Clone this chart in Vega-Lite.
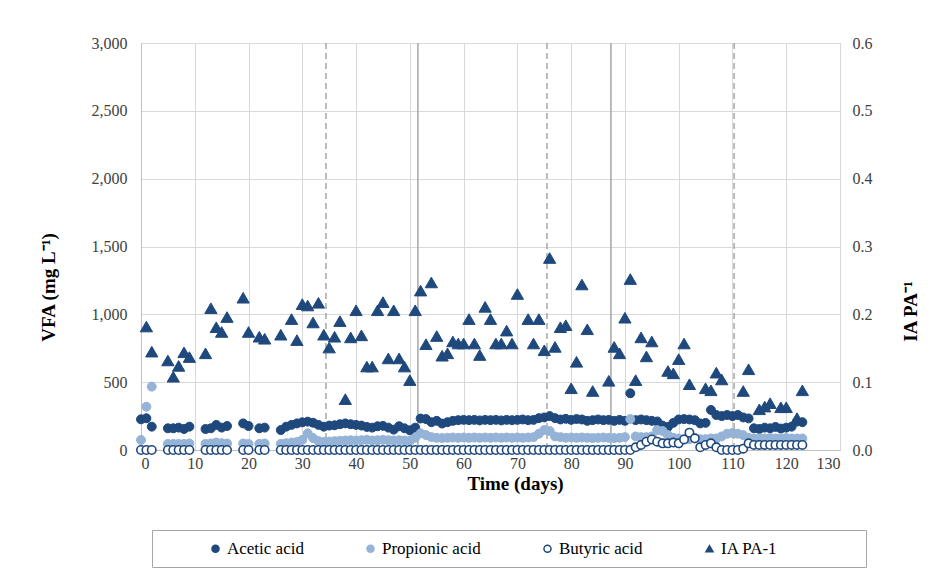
{
  "$schema": "https://vega.github.io/schema/vega-lite/v6.json",
  "width": 699,
  "height": 407,
  "autosize": {"type": "none"},
  "padding": {"left": 141, "top": 43, "right": 103, "bottom": 131},
  "background": "#FFFFFF",
  "datasets": {
    "phases": [
      {"day": 34.4, "kind": "dashed"},
      {"day": 51.5, "kind": "solid"},
      {"day": 75.5, "kind": "dashed"},
      {"day": 87.4, "kind": "solid"},
      {"day": 110.3, "kind": "dashed"}
    ],
    "vfa": [
      {"day":0,"Acetic acid":226,"Propionic acid":74,"Butyric acid":0,"IA PA-1":null},
      {"day":1,"Acetic acid":234,"Propionic acid":319,"Butyric acid":0,"IA PA-1":0.182},
      {"day":2,"Acetic acid":172,"Propionic acid":467,"Butyric acid":0,"IA PA-1":0.145},
      {"day":5,"Acetic acid":160,"Propionic acid":45,"Butyric acid":0,"IA PA-1":0.132},
      {"day":6,"Acetic acid":160,"Propionic acid":45,"Butyric acid":0,"IA PA-1":0.108},
      {"day":7,"Acetic acid":165,"Propionic acid":45,"Butyric acid":0,"IA PA-1":0.124},
      {"day":8,"Acetic acid":155,"Propionic acid":45,"Butyric acid":0,"IA PA-1":0.144},
      {"day":9,"Acetic acid":172,"Propionic acid":48,"Butyric acid":0,"IA PA-1":0.137},
      {"day":12,"Acetic acid":155,"Propionic acid":45,"Butyric acid":0,"IA PA-1":0.1425},
      {"day":13,"Acetic acid":160,"Propionic acid":48,"Butyric acid":0,"IA PA-1":0.209},
      {"day":14,"Acetic acid":185,"Propionic acid":55,"Butyric acid":0,"IA PA-1":0.181},
      {"day":15,"Acetic acid":165,"Propionic acid":50,"Butyric acid":0,"IA PA-1":0.174},
      {"day":16,"Acetic acid":177,"Propionic acid":48,"Butyric acid":0,"IA PA-1":0.196},
      {"day":19,"Acetic acid":196,"Propionic acid":48,"Butyric acid":0,"IA PA-1":0.2245},
      {"day":20,"Acetic acid":177,"Propionic acid":45,"Butyric acid":0,"IA PA-1":0.174},
      {"day":22,"Acetic acid":160,"Propionic acid":45,"Butyric acid":0,"IA PA-1":0.167},
      {"day":23,"Acetic acid":165,"Propionic acid":48,"Butyric acid":0,"IA PA-1":0.164},
      {"day":26,"Acetic acid":147,"Propionic acid":45,"Butyric acid":0,"IA PA-1":0.170},
      {"day":27,"Acetic acid":172,"Propionic acid":50,"Butyric acid":0,"IA PA-1":null},
      {"day":28,"Acetic acid":185,"Propionic acid":55,"Butyric acid":0,"IA PA-1":0.193},
      {"day":29,"Acetic acid":196,"Propionic acid":60,"Butyric acid":0,"IA PA-1":0.162},
      {"day":30,"Acetic acid":204,"Propionic acid":75,"Butyric acid":0,"IA PA-1":0.215},
      {"day":31,"Acetic acid":209,"Propionic acid":123,"Butyric acid":0,"IA PA-1":0.213},
      {"day":32,"Acetic acid":201,"Propionic acid":88,"Butyric acid":0,"IA PA-1":0.188},
      {"day":33,"Acetic acid":185,"Propionic acid":66,"Butyric acid":0,"IA PA-1":0.217},
      {"day":34,"Acetic acid":172,"Propionic acid":60,"Butyric acid":0,"IA PA-1":0.170},
      {"day":35,"Acetic acid":180,"Propionic acid":62,"Butyric acid":0,"IA PA-1":0.151},
      {"day":36,"Acetic acid":182,"Propionic acid":65,"Butyric acid":0,"IA PA-1":0.167},
      {"day":37,"Acetic acid":190,"Propionic acid":68,"Butyric acid":0,"IA PA-1":0.190},
      {"day":38,"Acetic acid":196,"Propionic acid":70,"Butyric acid":0,"IA PA-1":0.075},
      {"day":39,"Acetic acid":190,"Propionic acid":72,"Butyric acid":0,"IA PA-1":0.166},
      {"day":40,"Acetic acid":185,"Propionic acid":70,"Butyric acid":0,"IA PA-1":0.206},
      {"day":41,"Acetic acid":180,"Propionic acid":72,"Butyric acid":0,"IA PA-1":0.169},
      {"day":42,"Acetic acid":170,"Propionic acid":75,"Butyric acid":0,"IA PA-1":0.123},
      {"day":43,"Acetic acid":165,"Propionic acid":70,"Butyric acid":0,"IA PA-1":0.123},
      {"day":44,"Acetic acid":175,"Propionic acid":72,"Butyric acid":0,"IA PA-1":0.206},
      {"day":45,"Acetic acid":178,"Propionic acid":75,"Butyric acid":0,"IA PA-1":0.218},
      {"day":46,"Acetic acid":165,"Propionic acid":72,"Butyric acid":0,"IA PA-1":0.135},
      {"day":47,"Acetic acid":150,"Propionic acid":70,"Butyric acid":0,"IA PA-1":0.206},
      {"day":48,"Acetic acid":175,"Propionic acid":72,"Butyric acid":0,"IA PA-1":0.135},
      {"day":49,"Acetic acid":160,"Propionic acid":70,"Butyric acid":0,"IA PA-1":0.123},
      {"day":50,"Acetic acid":145,"Propionic acid":68,"Butyric acid":0,"IA PA-1":0.103},
      {"day":51,"Acetic acid":165,"Propionic acid":90,"Butyric acid":0,"IA PA-1":0.206},
      {"day":52,"Acetic acid":232,"Propionic acid":123,"Butyric acid":0,"IA PA-1":0.235},
      {"day":53,"Acetic acid":228,"Propionic acid":110,"Butyric acid":0,"IA PA-1":0.156},
      {"day":54,"Acetic acid":205,"Propionic acid":95,"Butyric acid":0,"IA PA-1":0.247},
      {"day":55,"Acetic acid":215,"Propionic acid":90,"Butyric acid":0,"IA PA-1":0.168},
      {"day":56,"Acetic acid":195,"Propionic acid":88,"Butyric acid":0,"IA PA-1":0.139},
      {"day":57,"Acetic acid":205,"Propionic acid":90,"Butyric acid":0,"IA PA-1":0.1425},
      {"day":58,"Acetic acid":215,"Propionic acid":92,"Butyric acid":0,"IA PA-1":0.160},
      {"day":59,"Acetic acid":220,"Propionic acid":90,"Butyric acid":0,"IA PA-1":0.157},
      {"day":60,"Acetic acid":222,"Propionic acid":92,"Butyric acid":0,"IA PA-1":0.157},
      {"day":61,"Acetic acid":220,"Propionic acid":90,"Butyric acid":0,"IA PA-1":0.193},
      {"day":62,"Acetic acid":222,"Propionic acid":92,"Butyric acid":0,"IA PA-1":0.157},
      {"day":63,"Acetic acid":218,"Propionic acid":90,"Butyric acid":0,"IA PA-1":0.140},
      {"day":64,"Acetic acid":222,"Propionic acid":92,"Butyric acid":0,"IA PA-1":0.211},
      {"day":65,"Acetic acid":220,"Propionic acid":90,"Butyric acid":0,"IA PA-1":0.193},
      {"day":66,"Acetic acid":222,"Propionic acid":92,"Butyric acid":0,"IA PA-1":0.157},
      {"day":67,"Acetic acid":218,"Propionic acid":90,"Butyric acid":0,"IA PA-1":0.157},
      {"day":68,"Acetic acid":222,"Propionic acid":92,"Butyric acid":0,"IA PA-1":0.176},
      {"day":69,"Acetic acid":220,"Propionic acid":90,"Butyric acid":0,"IA PA-1":0.157},
      {"day":70,"Acetic acid":222,"Propionic acid":92,"Butyric acid":0,"IA PA-1":0.230},
      {"day":71,"Acetic acid":225,"Propionic acid":90,"Butyric acid":0,"IA PA-1":null},
      {"day":72,"Acetic acid":220,"Propionic acid":92,"Butyric acid":0,"IA PA-1":0.193},
      {"day":73,"Acetic acid":222,"Propionic acid":95,"Butyric acid":0,"IA PA-1":0.157},
      {"day":74,"Acetic acid":235,"Propionic acid":120,"Butyric acid":0,"IA PA-1":0.193},
      {"day":75,"Acetic acid":240,"Propionic acid":147,"Butyric acid":0,"IA PA-1":0.147},
      {"day":76,"Acetic acid":250,"Propionic acid":140,"Butyric acid":0,"IA PA-1":0.283},
      {"day":77,"Acetic acid":235,"Propionic acid":100,"Butyric acid":0,"IA PA-1":0.152},
      {"day":78,"Acetic acid":225,"Propionic acid":95,"Butyric acid":0,"IA PA-1":0.181},
      {"day":79,"Acetic acid":230,"Propionic acid":90,"Butyric acid":0,"IA PA-1":0.184},
      {"day":80,"Acetic acid":222,"Propionic acid":92,"Butyric acid":0,"IA PA-1":0.091},
      {"day":81,"Acetic acid":228,"Propionic acid":90,"Butyric acid":0,"IA PA-1":0.130},
      {"day":82,"Acetic acid":225,"Propionic acid":92,"Butyric acid":0,"IA PA-1":0.244},
      {"day":83,"Acetic acid":215,"Propionic acid":90,"Butyric acid":0,"IA PA-1":0.178},
      {"day":84,"Acetic acid":220,"Propionic acid":88,"Butyric acid":0,"IA PA-1":0.087},
      {"day":85,"Acetic acid":225,"Propionic acid":90,"Butyric acid":0,"IA PA-1":null},
      {"day":86,"Acetic acid":220,"Propionic acid":92,"Butyric acid":0,"IA PA-1":null},
      {"day":87,"Acetic acid":222,"Propionic acid":90,"Butyric acid":0,"IA PA-1":0.102},
      {"day":88,"Acetic acid":215,"Propionic acid":88,"Butyric acid":0,"IA PA-1":0.152},
      {"day":89,"Acetic acid":222,"Propionic acid":90,"Butyric acid":0,"IA PA-1":0.1425},
      {"day":90,"Acetic acid":215,"Propionic acid":95,"Butyric acid":0,"IA PA-1":0.195},
      {"day":91,"Acetic acid":418,"Propionic acid":228,"Butyric acid":0,"IA PA-1":0.252},
      {"day":92,"Acetic acid":220,"Propionic acid":100,"Butyric acid":20,"IA PA-1":0.103},
      {"day":93,"Acetic acid":225,"Propionic acid":95,"Butyric acid":37,"IA PA-1":0.166},
      {"day":94,"Acetic acid":220,"Propionic acid":95,"Butyric acid":61,"IA PA-1":0.138},
      {"day":95,"Acetic acid":215,"Propionic acid":100,"Butyric acid":78,"IA PA-1":0.160},
      {"day":96,"Acetic acid":210,"Propionic acid":147,"Butyric acid":61,"IA PA-1":null},
      {"day":97,"Acetic acid":180,"Propionic acid":140,"Butyric acid":49,"IA PA-1":null},
      {"day":98,"Acetic acid":170,"Propionic acid":110,"Butyric acid":49,"IA PA-1":0.1165},
      {"day":99,"Acetic acid":200,"Propionic acid":90,"Butyric acid":55,"IA PA-1":0.113},
      {"day":100,"Acetic acid":225,"Propionic acid":85,"Butyric acid":49,"IA PA-1":0.134},
      {"day":101,"Acetic acid":228,"Propionic acid":80,"Butyric acid":78,"IA PA-1":0.157},
      {"day":102,"Acetic acid":225,"Propionic acid":80,"Butyric acid":128,"IA PA-1":0.097},
      {"day":103,"Acetic acid":220,"Propionic acid":85,"Butyric acid":86,"IA PA-1":null},
      {"day":104,"Acetic acid":196,"Propionic acid":80,"Butyric acid":20,"IA PA-1":null},
      {"day":105,"Acetic acid":200,"Propionic acid":80,"Butyric acid":37,"IA PA-1":0.091},
      {"day":106,"Acetic acid":295,"Propionic acid":85,"Butyric acid":49,"IA PA-1":0.088},
      {"day":107,"Acetic acid":258,"Propionic acid":85,"Butyric acid":20,"IA PA-1":0.114},
      {"day":108,"Acetic acid":250,"Propionic acid":100,"Butyric acid":0,"IA PA-1":0.104},
      {"day":109,"Acetic acid":258,"Propionic acid":120,"Butyric acid":0,"IA PA-1":null},
      {"day":110,"Acetic acid":250,"Propionic acid":125,"Butyric acid":0,"IA PA-1":null},
      {"day":111,"Acetic acid":258,"Propionic acid":120,"Butyric acid":0,"IA PA-1":null},
      {"day":112,"Acetic acid":240,"Propionic acid":110,"Butyric acid":10,"IA PA-1":0.087},
      {"day":113,"Acetic acid":233,"Propionic acid":90,"Butyric acid":49,"IA PA-1":0.119},
      {"day":114,"Acetic acid":160,"Propionic acid":85,"Butyric acid":37,"IA PA-1":null},
      {"day":115,"Acetic acid":155,"Propionic acid":85,"Butyric acid":37,"IA PA-1":0.060},
      {"day":116,"Acetic acid":165,"Propionic acid":85,"Butyric acid":37,"IA PA-1":0.064},
      {"day":117,"Acetic acid":160,"Propionic acid":88,"Butyric acid":37,"IA PA-1":0.069},
      {"day":118,"Acetic acid":170,"Propionic acid":85,"Butyric acid":37,"IA PA-1":null},
      {"day":119,"Acetic acid":158,"Propionic acid":85,"Butyric acid":37,"IA PA-1":0.063},
      {"day":120,"Acetic acid":165,"Propionic acid":88,"Butyric acid":37,"IA PA-1":0.063},
      {"day":121,"Acetic acid":172,"Propionic acid":85,"Butyric acid":37,"IA PA-1":null},
      {"day":122,"Acetic acid":209,"Propionic acid":85,"Butyric acid":37,"IA PA-1":0.047},
      {"day":123,"Acetic acid":205,"Propionic acid":85,"Butyric acid":37,"IA PA-1":0.088}
    ]
  },
  "layer": [
    {
      "layer": [
        {
          "data": {"name": "phases"},
          "mark": {"type": "rule", "color": "#A6A6A6", "strokeWidth": 1.5},
          "encoding": {
            "x": {"field": "day", "type": "quantitative", "scale": {"domain": [0, 130], "nice": false}},
            "strokeDash": {"field": "kind", "type": "nominal", "scale": {"domain": ["dashed", "solid"], "range": [[6, 4], [1, 0]]}, "legend": null}
          }
        },
        {
          "data": {"name": "vfa"},
          "transform": [{"fold": ["Acetic acid"], "as": ["series", "v"]}],
          "mark": {"type": "point", "size": 80, "strokeWidth": 1, "opacity": 1, "fillOpacity": 1},
          "encoding": {
            "x": {"field": "day", "type": "quantitative", "title": "Time (days)",
              "scale": {"domain": [0, 130], "nice": false},
              "axis": {"values": [0,10,20,30,40,50,60,70,80,90,100,110,120,130], "titleX": 374, "titleY": 33, "titleBaseline": "middle", "labelPadding": 5}},
            "y": {"field": "v", "type": "quantitative", "title": "VFA (mg L⁻¹)",
              "scale": {"domain": [0, 3000], "nice": false},
              "axis": {"values": [0,500,1000,1500,2000,2500,3000], "format": ",.0f", "titleX": -93, "titleY": 244, "titleAngle": -90, "titleBaseline": "middle", "titleAlign": "center", "labelPadding": 14}},
            "fill": {"field": "series", "type": "nominal", "title": "\u00a0",
              "scale": {"domain": ["Acetic acid", "Propionic acid", "Butyric acid", "IA PA-1", " "], "range": ["#1F497D", "#95B3D7", "#FFFFFF", "#1F497D", "#FFFFFF"]},
              "legend": {"orient": "none", "legendX": 11, "legendY": 487, "direction": "horizontal", "columns": 5, "gridAlign": "each", "columnPadding": 58, "padding": 10, "strokeColor": "#A6A6A6", "titleOrient": "left", "titlePadding": 45, "labelFontSize": 17, "labelColor": "#000000", "symbolSize": 50, "symbolStrokeWidth": 1.5, "labelOffset": 3, "labelLimit": 400}},
            "stroke": {"field": "series", "type": "nominal", "title": "\u00a0",
              "scale": {"domain": ["Acetic acid", "Propionic acid", "Butyric acid", "IA PA-1", " "], "range": ["#1F497D", "#95B3D7", "#1F497D", "#1F497D", "#FFFFFF"]},
              "legend": {"orient": "none", "legendX": 11, "legendY": 487, "direction": "horizontal", "columns": 5, "gridAlign": "each", "columnPadding": 58, "padding": 10, "strokeColor": "#A6A6A6", "titleOrient": "left", "titlePadding": 45, "labelFontSize": 17, "labelColor": "#000000", "symbolSize": 50, "symbolStrokeWidth": 1.5, "labelOffset": 3, "labelLimit": 400}},
            "shape": {"field": "series", "type": "nominal", "title": "\u00a0",
              "scale": {"domain": ["Acetic acid", "Propionic acid", "Butyric acid", "IA PA-1", " "], "range": ["circle", "circle", "circle", "triangle-up", "circle"]},
              "legend": {"orient": "none", "legendX": 11, "legendY": 487, "direction": "horizontal", "columns": 5, "gridAlign": "each", "columnPadding": 58, "padding": 10, "strokeColor": "#A6A6A6", "titleOrient": "left", "titlePadding": 45, "labelFontSize": 17, "labelColor": "#000000", "symbolSize": 50, "symbolStrokeWidth": 1.5, "labelOffset": 3, "labelLimit": 400}}
          }
        },
        {
          "data": {"name": "vfa"},
          "transform": [{"fold": ["Propionic acid"], "as": ["series", "v"]}],
          "mark": {"type": "point", "size": 80, "strokeWidth": 1, "opacity": 1, "fillOpacity": 1},
          "encoding": {
            "x": {"field": "day", "type": "quantitative"},
            "y": {"field": "v", "type": "quantitative"},
            "fill": {"field": "series", "type": "nominal", "title": "\u00a0"},
            "stroke": {"field": "series", "type": "nominal", "title": "\u00a0"},
            "shape": {"field": "series", "type": "nominal", "title": "\u00a0"}
          }
        },
        {
          "data": {"name": "vfa"},
          "transform": [{"fold": ["Butyric acid"], "as": ["series", "v"]}],
          "mark": {"type": "point", "size": 70, "strokeWidth": 1.6, "opacity": 1, "fillOpacity": 1},
          "encoding": {
            "x": {"field": "day", "type": "quantitative"},
            "y": {"field": "v", "type": "quantitative"},
            "fill": {"field": "series", "type": "nominal", "title": "\u00a0"},
            "stroke": {"field": "series", "type": "nominal", "title": "\u00a0"},
            "shape": {"field": "series", "type": "nominal", "title": "\u00a0"}
          }
        }
      ]
    },
    {
      "data": {"name": "vfa"},
      "transform": [{"fold": ["IA PA-1"], "as": ["series", "v"]}],
      "mark": {"type": "point", "size": 150, "strokeWidth": 1, "opacity": 1, "fillOpacity": 1},
      "encoding": {
        "x": {"field": "day", "type": "quantitative"},
        "y": {"field": "v", "type": "quantitative", "title": "IA PA⁻¹",
          "scale": {"domain": [0, 0.6], "nice": false},
          "axis": {"orient": "right", "values": [0,0.1,0.2,0.3,0.4,0.5,0.6], "format": ".1f", "grid": false, "domain": false, "titleX": 70, "titleY": 268, "titleAngle": -90, "titleBaseline": "middle", "titleAlign": "center", "labelPadding": 12}},
        "fill": {"field": "series", "type": "nominal", "title": "\u00a0"},
        "stroke": {"field": "series", "type": "nominal", "title": "\u00a0"},
        "shape": {"field": "series", "type": "nominal", "title": "\u00a0"}
      }
    }
  ],
  "resolve": {"scale": {"y": "independent"}},
  "config": {
    "font": "Liberation Serif, Times New Roman, serif",
    "view": {"stroke": "#BFBFBF", "strokeWidth": 1},
    "axis": {
      "labelFont": "Liberation Serif, Times New Roman, serif",
      "labelFontSize": 16,
      "labelColor": "#404040",
      "titleFont": "Liberation Serif, Times New Roman, serif",
      "titleFontSize": 19,
      "titleFontWeight": "bold",
      "titleColor": "#000000",
      "gridColor": "#D9D9D9",
      "gridWidth": 1,
      "domainColor": "#BFBFBF",
      "ticks": false
    },
    "legend": {"titleFont": "Liberation Serif, Times New Roman, serif", "titleFontSize": 17, "labelFont": "Liberation Serif, Times New Roman, serif"}
  }
}
